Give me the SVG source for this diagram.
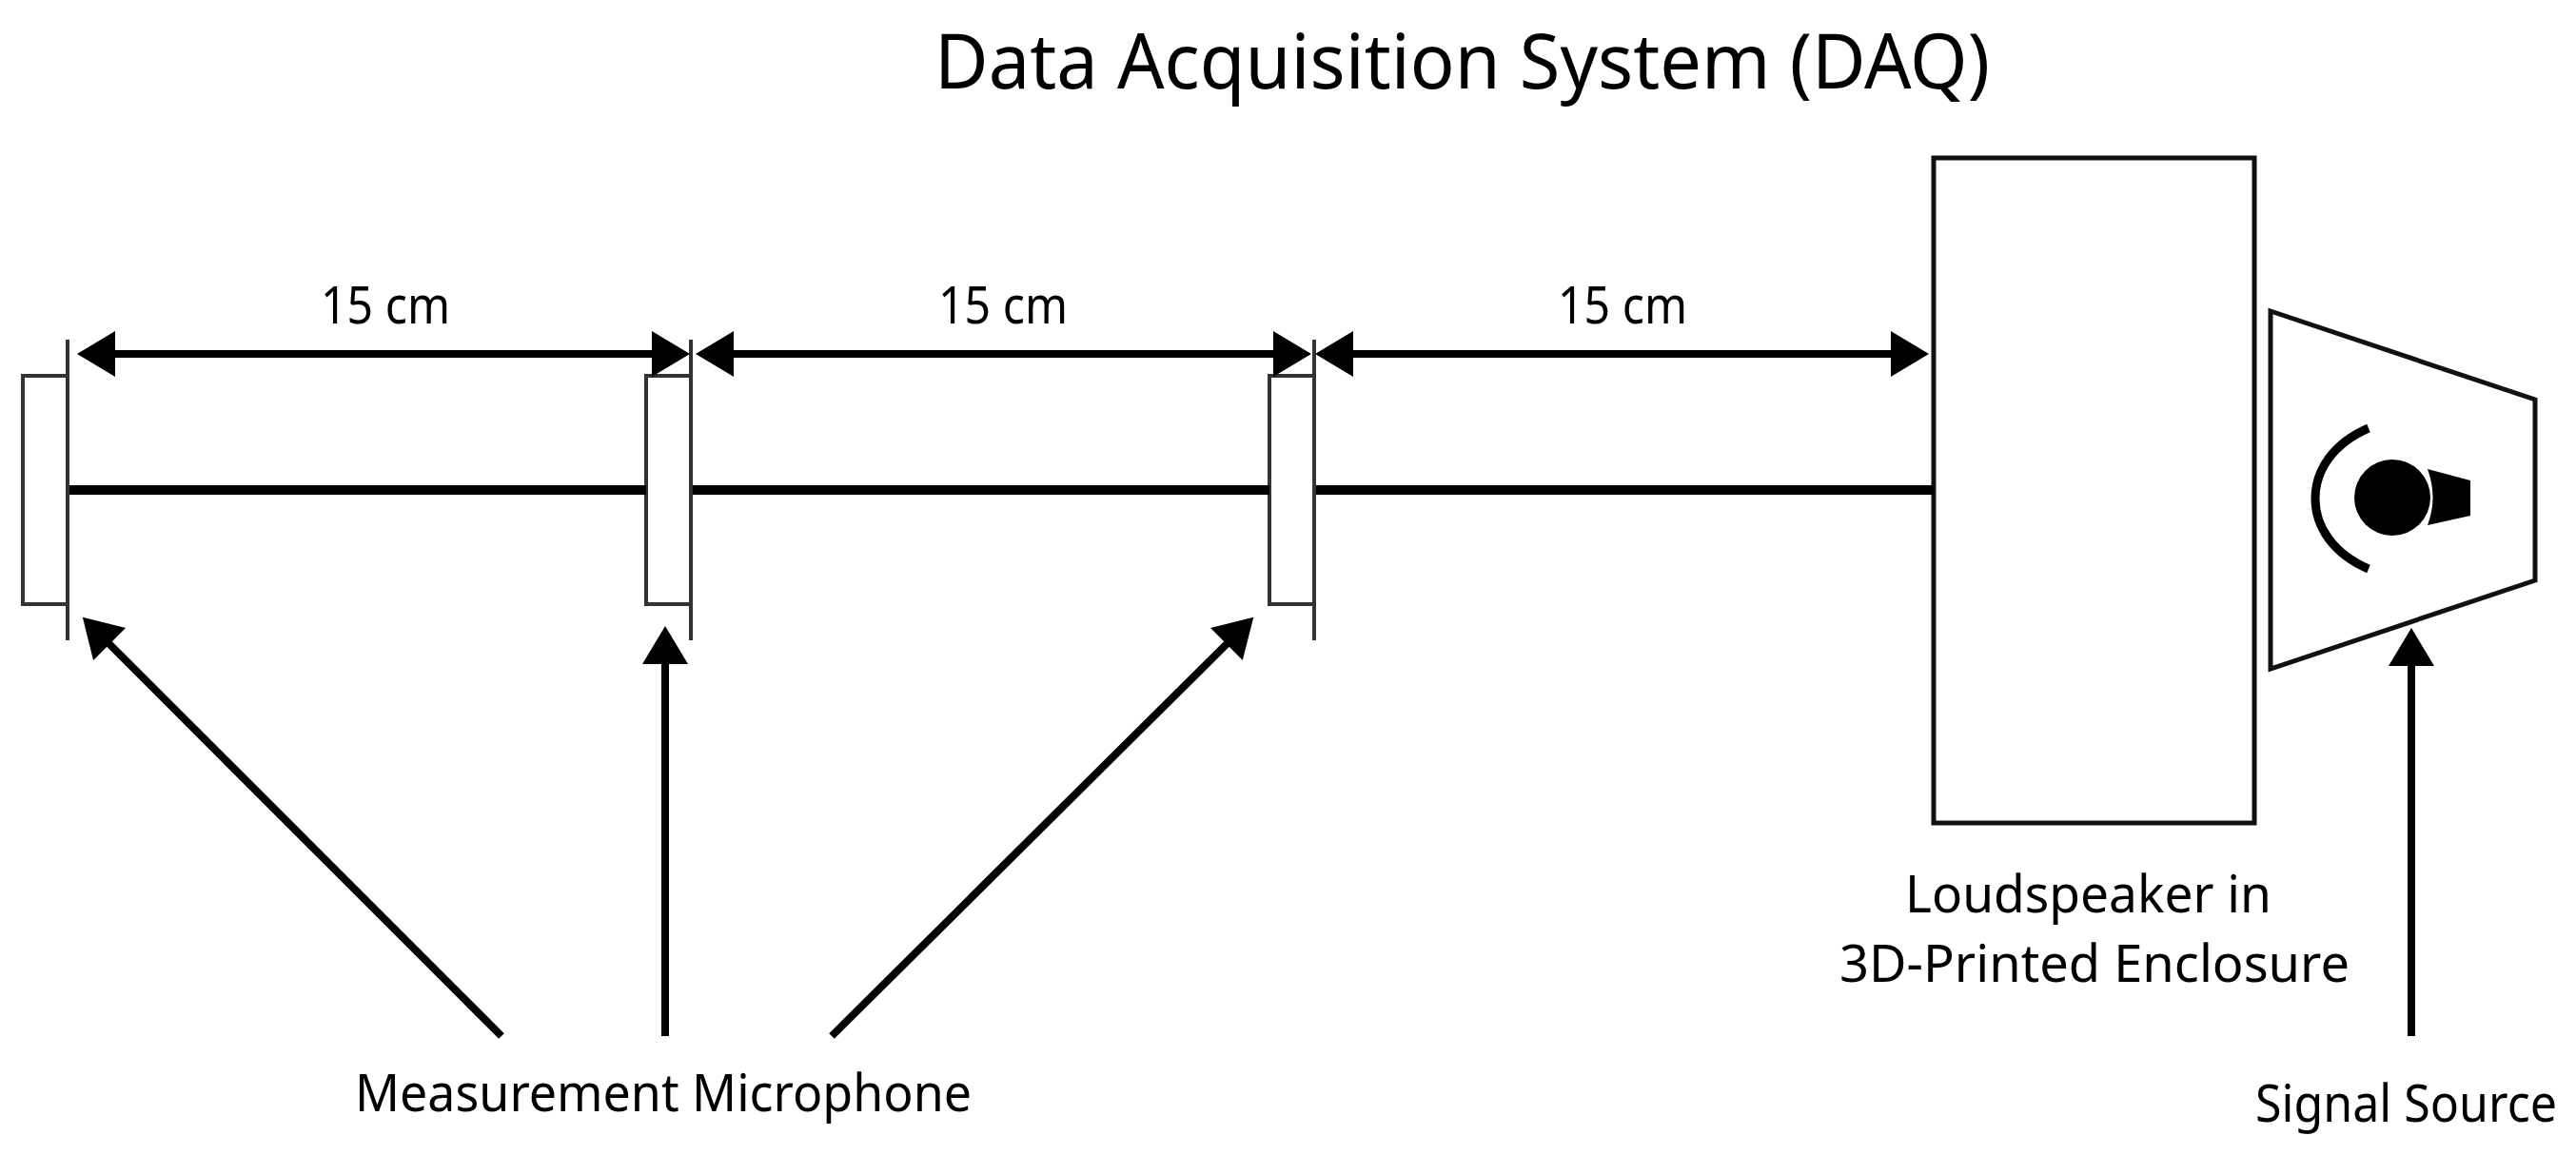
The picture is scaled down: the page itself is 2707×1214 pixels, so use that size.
<svg xmlns="http://www.w3.org/2000/svg" width="2707" height="1214" viewBox="0 0 2707 1214">
<style>
text{font-family:"Noto Sans","Open Sans","Liberation Sans",sans-serif;fill:#000;font-size:54px}
.t{font-size:81px}
.a{stroke:#000;stroke-width:8;fill:none}
.d{stroke:#000;stroke-width:8;fill:none}
.r{stroke:#000;stroke-width:10;fill:none}
.m{stroke:#333;stroke-width:4;fill:#fff}
.k{fill:#000;stroke:none}
</style>
<defs>
<marker id="h" markerUnits="userSpaceOnUse" markerWidth="50" markerHeight="50" refX="10" refY="24" orient="auto-start-reverse"><path class="k" d="M0 0L40 24L0 48Z"/></marker>
</defs>
<rect width="2707" height="1214" fill="#fff"/>
<g id="mic1"><rect class="m" x="24" y="395" width="47" height="240"/><line class="m" x1="71" y1="357" x2="71" y2="673"/></g>
<g id="mic2"><rect class="m" x="679" y="395" width="47" height="240"/><line class="m" x1="726" y1="357" x2="726" y2="673"/></g>
<g id="mic3"><rect class="m" x="1334" y="395" width="47" height="240"/><line class="m" x1="1381" y1="357" x2="1381" y2="673"/></g>
<g id="enclosure"><rect x="2032" y="166" width="337" height="699" fill="#fff" stroke="#111" stroke-width="5"/></g>
<g id="source">
<path d="M2386 327L2664 420V610L2386 703Z" fill="#fff" stroke="#111" stroke-width="5"/>
<path d="M2489 450C2452 466 2433 494 2433 524C2433 554 2452 582 2489 598" fill="none" stroke="#000" stroke-width="9"/>
<circle class="k" cx="2514" cy="523" r="40"/>
<path class="k" d="M2551 493L2596 505V542L2551 552Q2562 523 2551 493Z"/>
</g>
<g id="connectors">
<line class="r" x1="73" y1="515" x2="679" y2="515"/>
<line class="r" x1="728" y1="515" x2="1334" y2="515"/>
<line class="r" x1="1383" y1="515" x2="2032" y2="515"/>
<line class="d" x1="111" y1="372" x2="695" y2="372" marker-start="url(#h)" marker-end="url(#h)"/>
<line class="d" x1="761" y1="372" x2="1348" y2="372" marker-start="url(#h)" marker-end="url(#h)"/>
<line class="d" x1="1412" y1="372" x2="1997" y2="372" marker-start="url(#h)" marker-end="url(#h)"/>
<line class="a" x1="527" y1="1089" x2="108" y2="670" marker-end="url(#h)"/>
<line class="a" x1="699" y1="1089" x2="699" y2="688" marker-end="url(#h)"/>
<line class="a" x1="874" y1="1089" x2="1296" y2="670" marker-end="url(#h)"/>
<line class="a" x1="2534" y1="1089" x2="2534" y2="690" marker-end="url(#h)"/>
</g>
<g id="labels">
<text class="t" x="982" y="93" textLength="1109" lengthAdjust="spacingAndGlyphs">Data Acquisition System (DAQ)</text>
<text x="337" y="340" textLength="136" lengthAdjust="spacingAndGlyphs">15 cm</text>
<text x="986" y="340" textLength="136" lengthAdjust="spacingAndGlyphs">15 cm</text>
<text x="1637" y="340" textLength="136" lengthAdjust="spacingAndGlyphs">15 cm</text>
<text x="373" y="1168" textLength="648" lengthAdjust="spacingAndGlyphs">Measurement Microphone</text>
<text x="2002" y="959" textLength="385" lengthAdjust="spacingAndGlyphs">Loudspeaker in</text>
<text x="1933" y="1032" textLength="536" lengthAdjust="spacingAndGlyphs">3D-Printed Enclosure</text>
<text x="2370" y="1179" textLength="317" lengthAdjust="spacingAndGlyphs">Signal Source</text>
</g>
</svg>
